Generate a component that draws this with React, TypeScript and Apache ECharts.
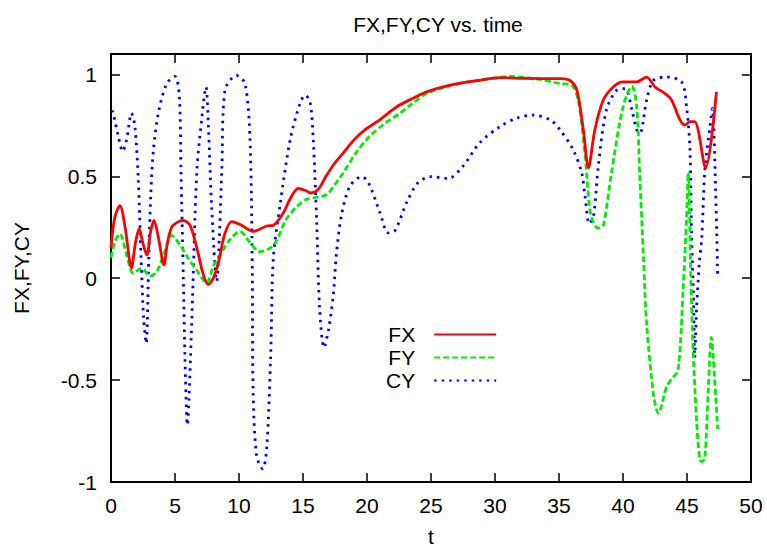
import React, { useEffect, useRef } from "react";
import * as echarts from "echarts";

const titleText = "FX,FY,CY vs. time";
const xTicks = { min: 0, max: 50, interval: 5 };
const yTicks = { min: -1, max: 1.1, interval: 0.5 };

const fxData: [number, number][] = [
  [0, 0.15], [0.3, 0.3], [0.7, 0.356], [1.1, 0.25], [1.6, 0.05], [1.9, 0.17], [2.2, 0.243],
  [2.5, 0.17], [2.8, 0.113], [3.1, 0.23], [3.36, 0.283], [3.7, 0.2], [4.14, 0.065], [4.4, 0.17],
  [4.74, 0.25], [5.2, 0.275], [5.65, 0.283], [6.17, 0.26], [6.7, 0.15], [7.2, 0.02], [7.6, -0.032],
  [8.0, 0.0], [8.4, 0.08], [8.9, 0.22], [9.43, 0.278], [10.2, 0.26], [11.1, 0.23], [12.16, 0.256],
  [12.7, 0.26], [13.46, 0.32], [14.0, 0.39], [14.63, 0.44], [15.2, 0.43], [15.6, 0.418], [16.2, 0.437],
  [16.8, 0.5], [17.4, 0.558], [18.15, 0.615], [19.0, 0.68], [19.84, 0.728], [21.0, 0.777], [22.3, 0.84],
  [23.5, 0.88], [24.66, 0.914], [26.5, 0.947], [28.5, 0.968], [30.4, 0.984], [32.5, 0.98], [35.1, 0.979],
  [35.86, 0.97], [36.4, 0.922], [36.9, 0.728], [37.3, 0.542], [37.8, 0.728], [38.46, 0.874], [39.24, 0.938],
  [40.0, 0.963], [41.07, 0.963], [41.85, 0.987], [42.5, 0.938], [43.3, 0.906], [43.8, 0.874], [44.45, 0.777],
  [44.84, 0.752], [45.23, 0.768], [45.6, 0.768], [46.45, 0.542], [47.3, 0.914],
];

const fyData: [number, number][] = [
  [0, 0.1], [0.3, 0.18], [0.7, 0.218], [1.2, 0.12], [1.74, 0.024], [2.4, 0.049], [3.05, 0.01],
  [3.57, 0.032], [4.2, 0.13], [4.74, 0.21], [5.4, 0.162], [6.0, 0.1], [6.8, 0.03], [7.47, -0.024],
  [8.0, 0.06], [8.5, 0.113], [9.3, 0.19], [10.08, 0.23], [10.8, 0.18], [11.6, 0.13], [12.7, 0.162],
  [13.7, 0.29], [14.5, 0.35], [15.3, 0.388], [16.07, 0.397], [16.85, 0.41], [17.5, 0.46], [18.15, 0.518],
  [19.2, 0.62], [20.2, 0.696], [21.4, 0.76], [22.6, 0.81], [23.6, 0.86], [24.66, 0.906], [26.5, 0.945],
  [28.3, 0.968], [29.8, 0.98], [31.17, 0.99], [33.5, 0.975], [35.1, 0.955], [36.0, 0.947], [36.5, 0.874],
  [37.0, 0.63], [37.4, 0.34], [37.7, 0.27], [38.07, 0.246], [38.46, 0.259], [39.1, 0.518], [40.0, 0.84],
  [40.7, 0.942], [41.07, 0.84], [41.3, 0.518], [41.6, 0.097], [41.85, -0.227], [42.4, -0.58], [42.76, -0.663],
  [43.4, -0.534], [43.8, -0.494], [44.3, -0.453], [44.7, -0.05], [44.97, 0.3], [45.1, 0.52], [45.3, 0.0],
  [45.47, -0.34], [45.75, -0.7], [46.0, -0.89], [46.2, -0.9], [46.4, -0.88], [46.66, -0.55], [46.9, -0.29],
  [47.05, -0.39], [47.4, -0.74],
];

const cyData: [number, number][] = [
  [0, 0.82], [0.13, 0.817], [0.57, 0.696], [0.91, 0.623], [1.22, 0.68], [1.6, 0.81], [1.87, 0.744],
  [2.13, 0.485], [2.35, 0.1], [2.55, -0.2], [2.75, -0.32], [2.95, 0.1], [3.1, 0.4], [3.3, 0.62],
  [3.7, 0.81], [4.35, 0.955], [5.0, 0.99], [5.34, 0.89], [5.47, 0.518], [5.65, 0.0], [5.78, -0.39],
  [5.96, -0.72], [6.3, -0.227], [6.7, 0.518], [7.08, 0.777], [7.42, 0.938], [7.6, 0.76], [7.86, 0.356],
  [8.25, -0.016], [8.65, 0.518], [8.9, 0.922], [9.8, 0.995], [10.47, 0.955], [10.86, 0.68], [11.04, 0.032],
  [11.1, -0.55], [11.38, -0.874], [11.85, -0.935], [12.16, -0.84], [12.47, -0.39], [12.68, 0.097],
  [13.2, 0.356], [14.0, 0.68], [14.77, 0.858], [15.16, 0.898], [15.55, 0.866], [15.8, 0.68], [16.07, 0.275],
  [16.3, -0.15], [16.64, -0.34], [17.0, -0.25], [17.37, -0.08], [17.6, 0.113], [18.0, 0.307], [18.67, 0.453],
  [19.6, 0.498], [20.1, 0.47], [21.0, 0.324], [21.67, 0.222], [22.2, 0.235], [23.1, 0.372], [24.0, 0.47],
  [25.05, 0.498], [26.35, 0.489], [27.5, 0.55], [28.8, 0.664], [30.4, 0.744], [31.7, 0.785], [33, 0.8],
  [34.3, 0.777], [35.08, 0.728], [36.1, 0.63], [36.77, 0.518], [37.03, 0.405], [37.37, 0.267], [37.7, 0.307],
  [38.07, 0.55], [38.7, 0.825], [39.5, 0.922], [40.16, 0.93], [40.7, 0.825], [41.07, 0.728], [41.33, 0.712],
  [41.85, 0.874], [42.37, 0.97], [43.4, 0.987], [44.58, 0.963], [44.97, 0.84], [45.23, 0.63], [45.36, 0.194],
  [45.5, -0.065], [45.6, -0.39], [45.75, -0.146], [45.96, 0.073], [46.15, 0.194], [46.4, 0.534], [46.8, 0.744],
  [46.98, 0.833], [47.2, 0.518], [47.4, 0.0],
];

const FONT = "'Liberation Sans', Arial, Helvetica, sans-serif";

export default function App() {
  const ref = useRef<HTMLDivElement>(null);
  useEffect(() => {
    if (!ref.current) return;
    const chart = echarts.init(ref.current, undefined, { renderer: "svg" });
    const tickStyle = { show: true, inside: true, length: 9, lineStyle: { color: "#000", width: 1.5 } };
    const axisBase = {
      type: "value" as const,
      splitLine: { show: false },
      axisLine: { show: true, onZero: false, lineStyle: { color: "#000", width: 2 } },
      axisTick: tickStyle,
    };
    const labelStyle = { color: "#000", fontSize: 21, fontFamily: FONT };
    chart.setOption({
      animation: false,
      backgroundColor: "#fff",
      title: {
        text: titleText,
        left: 433,
        textAlign: "center",
        top: 9,
        textStyle: { fontSize: 21, fontWeight: "normal", color: "#000", fontFamily: FONT },
      },
      grid: { left: 111, right: 16, top: 54, bottom: 66 },
      legend: {
        orient: "vertical",
        left: 381,
        top: 319,
        align: "right",
        itemWidth: 62,
        itemHeight: 14,
        itemGap: 2,
        itemStyle: { opacity: 0 },
        textStyle: { ...labelStyle, padding: [0, 14, 0, 0] },
        data: ["FX", "FY", "CY"],
      },
      xAxis: [
        {
          ...axisBase,
          position: "bottom",
          min: xTicks.min,
          max: xTicks.max,
          interval: xTicks.interval,
          name: "t",
          nameLocation: "middle",
          nameGap: 44,
          nameTextStyle: labelStyle,
          axisLabel: { ...labelStyle, margin: 13 },
        },
        {
          ...axisBase,
          position: "top",
          min: xTicks.min,
          max: xTicks.max,
          interval: xTicks.interval,
          axisLabel: { show: false },
        },
      ],
      yAxis: [
        {
          ...axisBase,
          position: "left",
          min: yTicks.min,
          max: yTicks.max,
          interval: yTicks.interval,
          name: "FX,FY,CY",
          nameLocation: "middle",
          nameGap: 79,
          nameTextStyle: labelStyle,
          axisLabel: { ...labelStyle, margin: 14, showMaxLabel: false },
        },
        {
          ...axisBase,
          position: "right",
          min: yTicks.min,
          max: yTicks.max,
          interval: yTicks.interval,
          axisLabel: { show: false },
        },
      ],
      series: [
        {
          name: "FX",
          type: "line",
          data: fxData,
          showSymbol: false,
          symbol: "none",
          smooth: 0.3,
          lineStyle: { color: "#ff0000", width: 2.8, type: "solid" },
          itemStyle: { color: "#ff0000" },
          z: 3,
        },
        {
          name: "FY",
          type: "line",
          data: fyData,
          showSymbol: false,
          symbol: "none",
          smooth: 0.3,
          lineStyle: { color: "#00ee00", width: 2.8, type: [6, 3] },
          itemStyle: { color: "#00ee00" },
          z: 2,
        },
        {
          name: "CY",
          type: "line",
          data: cyData,
          showSymbol: false,
          symbol: "none",
          smooth: 0.3,
          lineStyle: { color: "#0000ff", width: 2.8, type: [2.5, 5] },
          itemStyle: { color: "#0000ff" },
          z: 1,
        },
      ],
    });
    return () => chart.dispose();
  }, []);
  return (
    <div
      ref={ref}
      style={{ position: "fixed", left: 0, top: 0, width: 767, height: 552, background: "#fff" }}
    />
  );
}
